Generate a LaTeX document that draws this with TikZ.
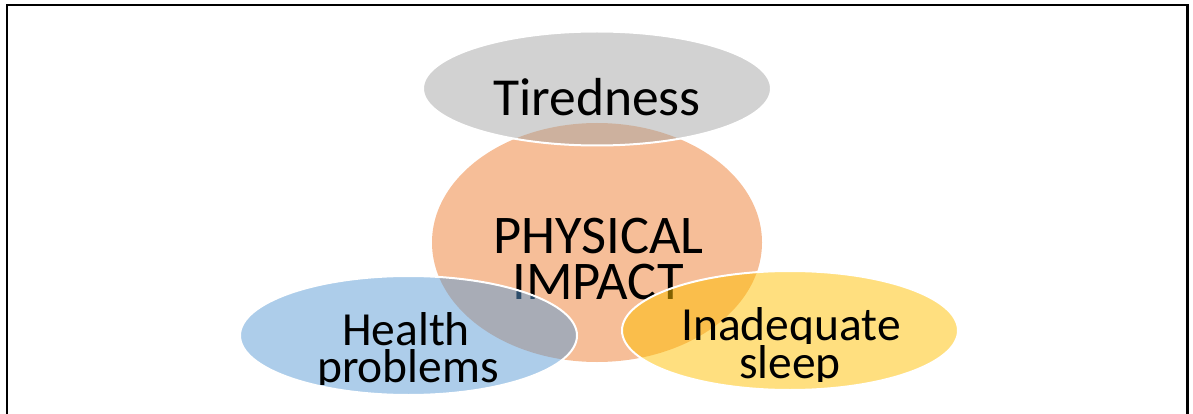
\documentclass[tikz,border=0pt]{standalone}
\usepackage{fontspec}
\setmainfont{Carlito}
\usepackage{tikz}

\definecolor{venngray}{HTML}{A5A5A5}
\definecolor{vennorange}{HTML}{ED7D31}
\definecolor{vennblue}{HTML}{5B9BD5}
\definecolor{vennyellow}{HTML}{FFC000}

\tikzset{
    venn/.style={fill opacity=0.5, draw=white, line width=2pt},
    lbl/.style={anchor=base, inner sep=0pt, text=black},
    big/.style={font=\fontsize{54.5}{54.5}\selectfont},
    small/.style={font=\fontsize{47.5}{47.5}\selectfont}
}

\begin{document}
\begin{tikzpicture}[x=1pt,y=-1pt]
        \useasboundingbox (0,0) rectangle (1193,414);
        \clip (0,0) rectangle (1193,414);
        \draw[line width=2.5pt] (7,5) rectangle (1187.5,440);
        % centre
        \fill[vennorange, fill opacity=0.5] (597,242.5) ellipse [x radius=165pt, y radius=119.5pt];
        \node[lbl, big] (physical) at (598.5,253) {PHYSICAL};
        \node[lbl, big] (impact) at (598,299) {IMPACT};
        % top
        \filldraw[venn, fill=venngray] (597,88.5) ellipse [x radius=174pt, y radius=57pt];
        \node[lbl, font=\fontsize{53.5}{53.5}\selectfont] (tired) at (597,116) {Tiredness};
        % left
        \filldraw[venn, fill=vennblue] (408.5,335.5) ellipse [x radius=168.5pt, y radius=59.5pt];
        \node[lbl, small] (health) at (406,345) {Health};
        \begin{scope}
            \clip (250,300) rectangle (570,384);
            \node[lbl, small] (problems) at (408,382) {problems};
        \end{scope}
        % right
        \filldraw[venn, fill=vennyellow] (790,330.5) ellipse [x radius=168pt, y radius=59.5pt];
        \begin{scope}
            \clip (640,280) rectangle (950,343);
            \node[lbl, small] (inadequate) at (791,340) {Inadequate};
        \end{scope}
        \begin{scope}
            \clip (640,343) rectangle (950,381);
            \node[lbl, small] (sleep) at (790,378) {sleep};
        \end{scope}
    \end{tikzpicture}
\end{document}
